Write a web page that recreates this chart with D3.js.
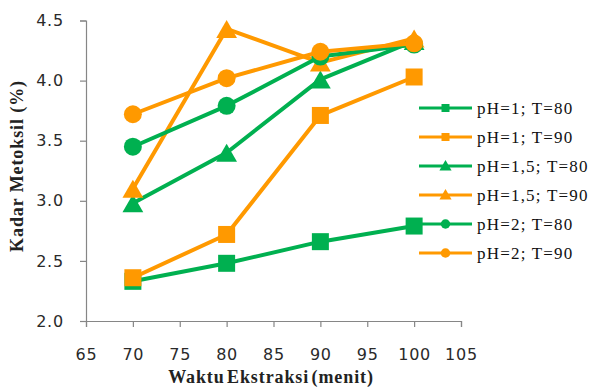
<!DOCTYPE html>
<html>
<head>
<meta charset="utf-8">
<script src="https://cdn.jsdelivr.net/npm/d3@7"></script>
<style>
  body { margin: 0; background: #fff; }
  svg { display: block; }
</style>
</head>
<body>
<svg id="chart" width="590" height="392"></svg>
<script>
// data
var waktu = [70, 80, 90, 100];
var seriesNames = ['pH=1; T=80', 'pH=1; T=90', 'pH=1,5; T=80', 'pH=1,5; T=90', 'pH=2; T=80', 'pH=2; T=90'];
var ph1T80 = [2.33, 2.48, 2.66, 2.79];
var ph1T90 = [2.36, 2.72, 3.71, 4.03];
var ph15T80 = [2.98, 3.40, 4.01, 4.33];
var ph15T90 = [3.10, 4.43, 4.15, 4.35];
var ph2T80 = [3.45, 3.79, 4.20, 4.30];
var ph2T90 = [3.72, 4.02, 4.24, 4.31];
var xTicks = [65, 70, 75, 80, 85, 90, 95, 100, 105];
var yTicks = [2.0, 2.5, 3.0, 3.5, 4.0, 4.5];

var GREEN = '#00b050', ORANGE = '#ff9900';
var series = [
  { name: seriesNames[0], values: ph1T80, color: GREEN, shape: 'square' },
  { name: seriesNames[1], values: ph1T90, color: ORANGE, shape: 'square' },
  { name: seriesNames[2], values: ph15T80, color: GREEN, shape: 'triangle' },
  { name: seriesNames[3], values: ph15T90, color: ORANGE, shape: 'triangle' },
  { name: seriesNames[4], values: ph2T80, color: GREEN, shape: 'circle' },
  { name: seriesNames[5], values: ph2T90, color: ORANGE, shape: 'circle' }
];

var svg = d3.select('#chart');
var x = d3.scaleLinear().domain([65, 105]).range([86, 461]);
var y = d3.scaleLinear().domain([2.0, 4.5]).range([321, 20.5]);

function symbolPath(shape, size) {
  var t = shape === 'square' ? d3.symbolSquare : shape === 'triangle' ? d3.symbolTriangle : d3.symbolCircle;
  return d3.symbol().type(t).size(size)();
}
var bigSize = { square: 289, triangle: 187, circle: 254 };
var smallSize = { square: 64, triangle: 64, circle: 70 };

// axes
var gx = svg.append('g').attr('transform', 'translate(0,' + y(2.0) + ')')
  .call(d3.axisBottom(x).tickValues(xTicks).tickSize(6).tickFormat(d3.format('d')));
var gy = svg.append('g').attr('transform', 'translate(' + x(65) + ',0)')
  .call(d3.axisLeft(y).tickValues(yTicks).tickSize(6).tickFormat(d3.format('.1f')));
[gx, gy].forEach(function (g) {
  g.select('.domain').attr('stroke', '#868686').attr('stroke-width', 1.2);
  g.selectAll('.tick line').attr('stroke', '#868686').attr('stroke-width', 1.2);
  g.selectAll('.tick text').attr('fill', '#2a2a2a')
    .style('font-family', '"DejaVu Sans", sans-serif').style('font-size', '16px')
    .style('letter-spacing', '0.8px');
});
gx.selectAll('.tick line').attr('y2', 6);
gx.selectAll('.tick text').attr('y', 28).attr('dy', '0.71em');
gy.selectAll('.tick text').attr('x', -22);

// lines + markers
var line = d3.line().x(function (d, i) { return x(waktu[i]); }).y(function (d) { return y(d); });
series.forEach(function (s) {
  var g = svg.append('g');
  g.append('path').attr('d', line(s.values)).attr('fill', 'none')
    .attr('stroke', s.color).attr('stroke-width', 4).attr('stroke-linejoin', 'round');
  g.selectAll('path.m').data(s.values).enter().append('path').attr('class', 'm')
    .attr('d', symbolPath(s.shape, bigSize[s.shape]))
    .attr('transform', function (d, i) {
      var dy = s.shape === 'triangle' ? 3 : 0;
      return 'translate(' + x(waktu[i]) + ',' + (y(d) + dy) + ')';
    })
    .attr('fill', s.color);
});

// legend
var leg = svg.append('g');
series.forEach(function (s, i) {
  var ly = 108 + i * 29;
  leg.append('line').attr('x1', 419).attr('x2', 472).attr('y1', ly).attr('y2', ly)
    .attr('stroke', s.color).attr('stroke-width', 3);
  leg.append('path').attr('d', symbolPath(s.shape, smallSize[s.shape]))
    .attr('transform', 'translate(445.5,' + (ly + (s.shape === 'triangle' ? 1 : 0)) + ')').attr('fill', s.color);
  leg.append('text').attr('x', 477).attr('y', ly + 6).text(s.name)
    .style('font-family', '"Liberation Serif", serif').style('font-size', '17px')
    .style('letter-spacing', '1.2px').attr('fill', '#111');
});

// titles
svg.append('text').attr('x', 271).attr('y', 383).attr('text-anchor', 'middle')
  .text('Waktu Ekstraksi (menit)')
  .style('font-family', '"Liberation Serif", serif').style('font-size', '18px')
  .style('font-weight', 'bold').style('letter-spacing', '0.9px').style('word-spacing', '-3px')
  .attr('fill', '#222');
svg.append('text').attr('transform', 'translate(23,166) rotate(-90)').attr('text-anchor', 'middle')
  .text('Kadar Metoksil (%)')
  .style('font-family', '"Liberation Serif", serif').style('font-size', '18px')
  .style('font-weight', 'bold').style('letter-spacing', '0.9px').attr('fill', '#222');
</script>
</body>
</html>
